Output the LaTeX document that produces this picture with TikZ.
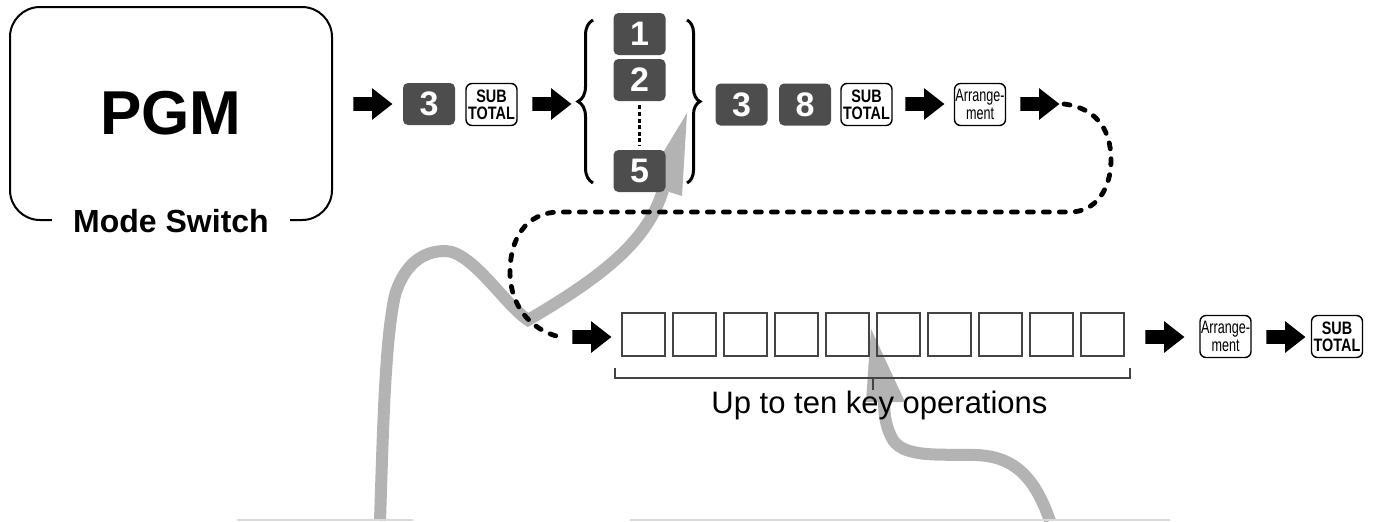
\documentclass[tikz,border=0pt]{standalone}
\usepackage{fontspec}
\setmainfont{Liberation Sans}
\newfontfamily\subfont[FakeStretch=0.8]{Liberation Sans}
\newfontfamily\arrfont[FakeStretch=0.7]{Liberation Sans}
\usepackage{tikz}
\usetikzlibrary{shapes.arrows,decorations.pathreplacing}
\usepackage{xcolor}
\definecolor{keygray}{HTML}{4D4D4D}
\definecolor{pointergray}{HTML}{B3B3B3}
\definecolor{boxgray}{HTML}{444444}
\definecolor{edgegray}{HTML}{DADADA}

\begin{document}
\begin{tikzpicture}[x=0.5pt,y=-0.5pt,
  numkey/.style={fill=keygray,text=white,rounded corners=2.5pt,minimum width=26pt,minimum height=21pt,inner sep=0pt,font=\bfseries\fontsize{17}{17}\selectfont},
  fnkey/.style={draw,line width=0.7pt,fill=white,rounded corners=3pt,minimum width=25.5pt,minimum height=21pt,inner sep=0pt,align=center},
  subtotal/.style={fnkey,font=\subfont\bfseries\fontsize{9}{8.5}\selectfont},
  arrange/.style={fnkey,font=\arrfont\fontsize{9}{7.5}\selectfont},
  seta/.style={single arrow,fill=black,inner xsep=0pt,inner ysep=3.25pt,minimum height=19.5pt,minimum width=15.5pt,single arrow head extend=4.5pt,single arrow tip angle=76,anchor=tail},
  caixa/.style={draw=boxgray,line width=0.6pt,minimum size=21.5pt,inner sep=0pt}]
\useasboundingbox (0,0) rectangle (1377,521);
% Ponteiros cinza
\coordinate (p1) at (380,521);
\coordinate (t1) at (687,113);
\coordinate (p2) at (1050,521);
\coordinate (t2) at (871,329);
\draw[pointergray,line width=6pt] (p1) .. controls (383,430) and (385,340) .. (395,295)
  .. controls (405,262) and (425,251) .. (445,251) .. controls (472,251) and (505,305) .. (528,320)
  .. controls (605,275) and (648,240) .. (663,190);
\fill[pointergray] (t1) -- (682,196) -- (644,184) -- cycle;
\draw[pointergray,line width=6pt] (p2) .. controls (1035,478) and (1015,456) .. (975,455)
  .. controls (940,454) and (905,458) .. (893,440) .. controls (886,428) and (884,415) .. (884,400);
\fill[pointergray] (t2) -- (866,402) -- (905,402) -- cycle;
\draw[edgegray,line width=1pt] (237,520) -- (413,520);
\draw[edgegray,line width=1pt] (630,520) -- (1170,520);
% Chave de modo
\node[draw,line width=1pt,rounded corners=15pt,minimum width=161pt,minimum height=106.5pt,
  font=\bfseries\fontsize{31}{31}\selectfont] (pgm) at (171,113.5) {PGM};
\node[fill=white,inner xsep=10.5pt,inner ysep=1pt,font=\bfseries\fontsize{16}{16}\selectfont] (modo) at (pgm.south) {Mode Switch};
% Primeira linha
\node[seta] (a1) at (353,104) {};
\node[numkey] (k3a) at (429,104) {3};
\node[subtotal] (st1) at (491.5,104.5) {SUB\\TOTAL};
\node[seta] (a2) at (532,104) {};
\draw[decorate,decoration={brace,amplitude=7.5pt},line width=1.5pt] (593,183) -- (593,20);
\node[numkey] (k1) at (639.5,34) {1};
\node[numkey] (k2) at (639.5,80) {2};
\node[numkey] (k5) at (639.5,171) {5};
\draw[line width=1.3pt,dash pattern=on 2pt off 1.3pt,shorten <=2pt,shorten >=2pt] (k2) -- (k5);
\draw[decorate,decoration={brace,amplitude=6.5pt},line width=1.5pt] (687,20) -- (687,183);
\node[numkey] (k3b) at (741.5,104.5) {3};
\node[numkey] (k8) at (805,104.5) {8};
\node[subtotal] (st2) at (866.5,104.5) {SUB\\TOTAL};
\node[seta] (a3) at (905,104) {};
\node[arrange] (arr1) at (980,104.5) {Arrange-\\ment};
\node[seta] (a4) at (1020,104) {};
% Segunda linha
\node[seta] (a5) at (572,337) {};
\foreach \i in {1,...,10}
  \node[caixa] (b\i) at ({643.5+51*(\i-1)},334.5) {};
\node[seta] (a6) at (1145,337) {};
\node[arrange] (arr2) at (1225.5,336.5) {Arrange-\\ment};
\node[seta] (a7) at (1266,337) {};
\node[subtotal] (st3) at (1337,336.5) {SUB\\TOTAL};
% Retorno tracejado
\draw[line width=2.4pt,line cap=round,dash pattern=on 3pt off 5pt] ([xshift=2pt]a4.tip)
  .. controls (1095,108) and (1111,128) .. (1111,160) .. controls (1111,190) and (1095,212) .. (1070,212)
  -- (560,212) .. controls (525,212) and (510,240) .. (510,272)
  .. controls (510,305) and (530,330) .. ([xshift=-6pt]a5.tail);
% Chave
\draw[boxgray,line width=0.6pt] (615,368) |- (873,378) -| (1130,368);
\draw[boxgray,line width=0.6pt] (873,378) -- (873,390);
\node[anchor=base,font=\fontsize{15.5}{15.5}\selectfont] (ops) at (879.5,413) {Up to ten key operations};
\end{tikzpicture}
\end{document}
